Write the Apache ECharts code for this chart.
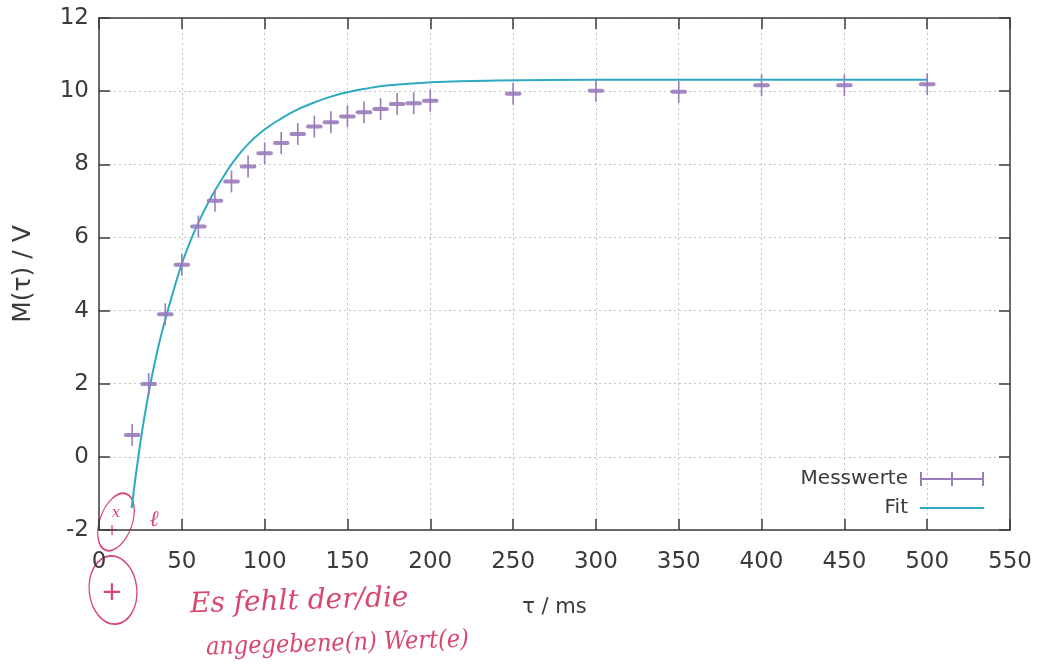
<!DOCTYPE html>
<html>
<head>
<meta charset="utf-8">
<style>html,body{margin:0;padding:0;background:#fff;}#chart{width:1037px;height:672px;}</style>
<script src="https://cdn.jsdelivr.net/npm/echarts@6/dist/echarts.min.js"></script>
</head>
<body>
<div id="chart"></div>
<script>
// Measured values (tau in ms, M in V)
var tau = [20, 30, 40, 50, 60, 70, 80, 90, 100, 110, 120, 130, 140, 150, 160, 170, 180, 190, 200, 250, 300, 350, 400, 450, 500];
var mVal = [0.60, 1.99, 3.90, 5.25, 6.30, 7.00, 7.53, 7.94, 8.30, 8.58, 8.83, 9.03, 9.15, 9.31, 9.42, 9.51, 9.65, 9.67, 9.74, 9.93, 10.01, 9.98, 10.16, 10.16, 10.19];
var tauErr = [5, 5, 5, 5, 5, 5, 5, 5, 5, 5, 5, 5, 5, 5, 5, 5, 5, 5, 5, 5, 5, 5, 5, 5, 5];
var mErr = [0.3, 0.3, 0.3, 0.3, 0.3, 0.3, 0.3, 0.3, 0.3, 0.3, 0.3, 0.3, 0.3, 0.3, 0.3, 0.3, 0.3, 0.3, 0.3, 0.3, 0.3, 0.3, 0.3, 0.3, 0.3];

// Fit curve
var fitTau = [19.7, 25, 30, 35, 40, 45, 50, 55, 60, 65, 70, 75, 80, 90, 100, 110, 120, 130, 140, 150, 160, 175, 200, 240, 300, 400, 500];
var fitM = [-1.40, 0.40, 1.75, 2.85, 3.75, 4.55, 5.28, 5.88, 6.40, 6.87, 7.28, 7.65, 8.00, 8.55, 8.95, 9.25, 9.50, 9.69, 9.85, 9.97, 10.06, 10.16, 10.24, 10.29, 10.31, 10.31, 10.31];

var xTicks = {min: 0, max: 550, interval: 50};
var yTicks = {min: -2, max: 12, interval: 2};

var purple = '#9a7bbb';
var teal = '#2eaac0';
var red = '#d9466f';
var axisColor = '#3c3c3c';
var textColor = '#3a3a3a';
var font = 'DejaVu Sans';

var pts = tau.map(function (t, i) { return [t, mVal[i], tauErr[i], mErr[i]]; });
var fitData = fitTau.map(function (t, i) { return [t, fitM[i]]; });

function renderErr(params, api) {
  var x = api.value(0), y = api.value(1), ex = api.value(2), ey = api.value(3);
  var c = api.coord([x, y]);
  var l = api.coord([x - ex, y]);
  var r = api.coord([x + ex, y]);
  var t = api.coord([x, y + ey]);
  var b = api.coord([x, y - ey]);
  return {
    type: 'group',
    children: [
      {type: 'rect', shape: {x: l[0], y: c[1] - 2, width: r[0] - l[0], height: 4, r: 2}, style: {fill: purple, opacity: 0.9}},
      {type: 'line', shape: {x1: c[0], y1: t[1], x2: c[0], y2: b[1]}, style: {stroke: purple, lineWidth: 1.6}}
    ]
  };
}

var axisCommon = {
  axisLine: {show: true, onZero: false, lineStyle: {color: axisColor, width: 1.5}},
  axisTick: {show: true, inside: true, length: 11, lineStyle: {color: axisColor, width: 1.5}},
  minorTick: {show: false}
};

var chart = echarts.init(document.getElementById('chart'));
chart.setOption({
  animation: false,
  backgroundColor: '#ffffff',
  grid: {left: 99, right: 27, top: 18, bottom: 142},
  xAxis: [
    Object.assign({
      type: 'value', min: xTicks.min, max: xTicks.max, interval: xTicks.interval,
      name: 'τ / ms', nameLocation: 'middle', nameGap: 67,
      nameTextStyle: {fontFamily: font, fontSize: 21, color: textColor},
      axisLabel: {fontFamily: font, fontSize: 23, color: textColor, margin: 21},
      splitLine: {show: true, lineStyle: {color: '#c4c4c4', type: [2, 3], width: 1}}
    }, axisCommon),
    Object.assign({
      type: 'value', position: 'top', min: xTicks.min, max: xTicks.max, interval: xTicks.interval,
      axisLabel: {show: false}, splitLine: {show: false}
    }, axisCommon)
  ],
  yAxis: [
    Object.assign({
      type: 'value', min: yTicks.min, max: yTicks.max, interval: yTicks.interval,
      name: 'M(τ) / V', nameLocation: 'middle', nameGap: 63, nameRotate: 90,
      nameTextStyle: {fontFamily: font, fontSize: 25, color: textColor},
      axisLabel: {fontFamily: font, fontSize: 23, color: textColor, margin: 10},
      splitLine: {show: true, lineStyle: {color: '#c4c4c4', type: [2, 3], width: 1}}
    }, axisCommon),
    Object.assign({
      type: 'value', position: 'right', min: yTicks.min, max: yTicks.max, interval: yTicks.interval,
      axisLabel: {show: false}, splitLine: {show: false}
    }, axisCommon)
  ],
  legend: [
    {
      data: [{name: 'Messwerte', icon: 'path://M0,6h64v2h-64z M0,0h2v14h-2z M31,0h2v14h-2z M62,0h2v14h-2z'}],
      right: 48, top: 464, align: 'right', itemWidth: 64, itemHeight: 14,
      textStyle: {fontFamily: font, fontSize: 20, color: textColor, padding: [0, 7, 0, 0]}
    },
    {
      data: [{name: 'Fit', icon: 'rect'}],
      right: 48, top: 493, align: 'right', itemWidth: 64, itemHeight: 2,
      textStyle: {fontFamily: font, fontSize: 20, color: textColor, padding: [0, 7, 0, 0]}
    }
  ],
  series: [
    {
      name: 'Fit', type: 'line', data: fitData, showSymbol: false, smooth: 0.5,
      lineStyle: {color: teal, width: 2}, itemStyle: {color: teal}, z: 3
    },
    {
      name: 'Messwerte', type: 'custom', data: pts, renderItem: renderErr,
      encode: {x: 0, y: 1}, itemStyle: {color: purple}, z: 4
    }
  ],
  graphic: [
    {type: 'circle', x: 116, y: 522, scaleX: 0.62, scaleY: 1.15, rotation: -0.35, shape: {cx: 0, cy: 0, r: 26},
      style: {fill: 'none', stroke: red, lineWidth: 1.5, strokeNoScale: true}},
    {type: 'circle', x: 113, y: 590, scaleX: 0.85, scaleY: 1.22, rotation: 0.1, shape: {cx: 0, cy: 0, r: 28},
      style: {fill: 'none', stroke: red, lineWidth: 1.5, strokeNoScale: true}},
    {type: 'text', x: 112, y: 593, style: {text: '+', fontFamily: font, fontSize: 26, fill: red, align: 'center', verticalAlign: 'middle'}},
    {type: 'text', x: 116, y: 513, style: {text: 'x', fontFamily: 'DejaVu Serif', fontStyle: 'italic', fontSize: 15, fill: red, align: 'center', verticalAlign: 'middle'}},
    {type: 'text', x: 112, y: 531, style: {text: '+', fontFamily: font, fontSize: 15, fill: red, align: 'center', verticalAlign: 'middle'}},
    {type: 'text', x: 154, y: 520, style: {text: 'ℓ', fontFamily: 'DejaVu Serif', fontStyle: 'italic', fontSize: 22, fill: red, align: 'center', verticalAlign: 'middle'}},
    {type: 'text', x: 190, y: 605, rotation: 0.03, style: {text: 'Es fehlt der/die', fontFamily: 'DejaVu Serif', fontStyle: 'italic', fontSize: 28, fill: red, verticalAlign: 'middle'}},
    {type: 'text', x: 206, y: 648, rotation: 0.03, style: {text: 'angegebene(n) Wert(e)', fontFamily: 'DejaVu Serif Condensed', fontStyle: 'italic', fontSize: 25, fill: red, verticalAlign: 'middle'}}
  ]
});
</script>
</body>
</html>
